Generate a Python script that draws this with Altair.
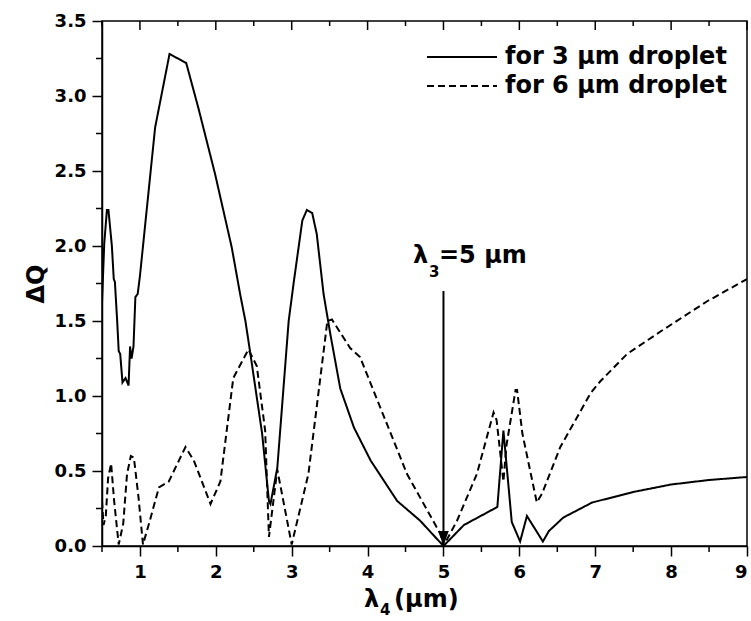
import altair as alt
import pandas as pd

# ΔQ versus λ4 for the 3 µm droplet
lam_3um = [0.5, 0.53, 0.565, 0.585, 0.63, 0.655, 0.67, 0.70, 0.72, 0.74, 0.77, 0.81,
           0.85, 0.87, 0.89, 0.915, 0.94, 0.97, 1.0, 1.2, 1.39, 1.61, 1.77, 1.99,
           2.21, 2.32, 2.39, 2.45, 2.61, 2.70, 2.72, 2.81, 2.96, 3.03, 3.14, 3.2,
           3.27, 3.33, 3.42, 3.51, 3.64, 3.82, 4.04, 4.39, 4.69, 5.0, 5.27, 5.71,
           5.79, 5.9, 6.01, 6.1, 6.31, 6.39, 6.58, 6.96, 7.5, 8.0, 8.5, 9.0]
dq_3um = [1.62, 2.02, 2.24, 2.24, 2.0, 1.78, 1.76, 1.5, 1.30, 1.28, 1.09, 1.12,
          1.07, 1.33, 1.25, 1.33, 1.66, 1.68, 1.8, 2.79, 3.28, 3.22, 2.92, 2.48,
          1.99, 1.68, 1.50, 1.30, 0.75, 0.30, 0.28, 0.52, 1.50, 1.77, 2.17, 2.24,
          2.22, 2.08, 1.68, 1.41, 1.05, 0.79, 0.57, 0.30, 0.17, 0.0, 0.14, 0.26,
          0.77, 0.16, 0.03, 0.20, 0.03, 0.10, 0.19, 0.29, 0.36, 0.41, 0.44, 0.46]

# ΔQ versus λ4 for the 6 µm droplet
lam_6um = [0.5, 0.52, 0.55, 0.58, 0.62, 0.66, 0.72, 0.78, 0.83, 0.88, 0.92, 0.98,
           1.04, 1.12, 1.25, 1.38, 1.6, 1.71, 1.93, 2.06, 2.23, 2.43, 2.54, 2.65,
           2.70, 2.81, 3.0, 3.22, 3.47, 3.53, 3.77, 3.9, 4.17, 4.52, 4.96, 5.0,
           5.18, 5.44, 5.66, 5.7, 5.79, 5.83, 5.95, 5.97, 6.04, 6.23, 6.3, 6.54,
           6.94, 7.07, 7.42, 7.86, 8.47, 9.0]
dq_6um = [0.30, 0.14, 0.2, 0.45, 0.55, 0.3, 0.01, 0.15, 0.48, 0.6, 0.59, 0.33,
          0.01, 0.15, 0.39, 0.43, 0.66, 0.57, 0.28, 0.43, 1.12, 1.31, 1.2, 0.77,
          0.06, 0.51, 0.01, 0.48, 1.50, 1.51, 1.32, 1.26, 0.92, 0.48, 0.08, 0.0,
          0.17, 0.48, 0.89, 0.84, 0.43, 0.67, 1.04, 1.04, 0.75, 0.29, 0.35, 0.66,
          1.02, 1.10, 1.28, 1.43, 1.63, 1.78]

series = ["for 3 \u03bcm droplet", "for 6 \u03bcm droplet"]

x_major = [1, 2, 3, 4, 5, 6, 7, 8, 9]
x_minor = [0.5, 1.5, 2.5, 3.5, 4.5, 5.5, 6.5, 7.5, 8.5]
y_major = [0.0, 0.5, 1.0, 1.5, 2.0, 2.5, 3.0, 3.5]
y_minor = [0.25, 0.75, 1.25, 1.75, 2.25, 2.75, 3.25]

lambda3 = 5.0
arrow_top = 1.70

W, H = 645, 525
FONT = "DejaVu Sans"

curves = pd.DataFrame({
    "lam": lam_3um + lam_6um,
    "dq": dq_3um + dq_6um,
    "series": [series[0]] * len(lam_3um) + [series[1]] * len(lam_6um),
})

xs = alt.Scale(domain=[0.5, 9], nice=False, zero=False)
ys = alt.Scale(domain=[0, 3.5], nice=False, zero=False)

lines = alt.Chart(curves).mark_line(color="black", strokeWidth=2, clip=True).encode(
    x=alt.X("lam:Q", scale=xs,
            axis=alt.Axis(values=x_major, format="d", tickSize=10, labelPadding=7,
                          title=None)),
    y=alt.Y("dq:Q", scale=ys,
            axis=alt.Axis(values=y_major, format=".1f", tickSize=10, labelPadding=6,
                          title="\u0394Q", titleFont=FONT, titleFontSize=24,
                          titleFontWeight="bold", titleColor="black", titleAngle=270,
                          titleX=-66, titleY=H / 2, titleAlign="center",
                          titleBaseline="middle")),
    strokeDash=alt.StrokeDash("series:N",
                              scale=alt.Scale(domain=series, range=[[1, 0], [7, 4]]),
                              legend=None),
)

# minor and mirrored ticks
xmin_df = pd.DataFrame({"lam": x_minor})
xmaj_df = pd.DataFrame({"lam": x_major})
ymin_df = pd.DataFrame({"dq": y_minor})

bottom_minor = alt.Chart(xmin_df).mark_rule(color="black", strokeWidth=1.5).encode(
    x=alt.X("lam:Q", scale=xs), y=alt.value(H), y2=alt.value(H + 6))
top_major = alt.Chart(xmaj_df).mark_rule(color="black", strokeWidth=1.5).encode(
    x=alt.X("lam:Q", scale=xs), y=alt.value(0), y2=alt.value(9))
top_minor = alt.Chart(xmin_df).mark_rule(color="black", strokeWidth=1.5).encode(
    x=alt.X("lam:Q", scale=xs), y=alt.value(0), y2=alt.value(5))
left_minor = alt.Chart(ymin_df).mark_rule(color="black", strokeWidth=1.5).encode(
    y=alt.Y("dq:Q", scale=ys), x=alt.value(-6), x2=alt.value(0))

# arrow marking λ3 = 5 µm
arrow_df = pd.DataFrame({"lam": [lambda3], "dq": [arrow_top], "dq0": [0.0]})
arrow_line = alt.Chart(arrow_df).mark_rule(color="black", strokeWidth=2).encode(
    x=alt.X("lam:Q", scale=xs), y=alt.Y("dq:Q", scale=ys), y2="dq0:Q")
arrow_head = alt.Chart(arrow_df).mark_point(
    shape="M0,0 L-0.35,-1 L0.35,-1 Z", filled=True, size=900, color="black",
    opacity=1, strokeWidth=0).encode(
    x=alt.X("lam:Q", scale=xs), y=alt.Y("dq0:Q", scale=ys))


def label(text, x, y, size, baseline="alphabetic", align="left"):
    return alt.Chart(pd.DataFrame({"t": [text]})).mark_text(
        font=FONT, fontSize=size, fontWeight="bold", color="black",
        align=align, baseline=baseline).encode(
        text="t:N", x=alt.value(x), y=alt.value(y))


annot = [
    label("\u03bb", 311, 242, 24),
    label("3", 327, 256, 15),
    label("=5 \u03bcm", 337, 242, 24),
    # x-axis title with subscript
    label("\u03bb", 262, 586, 24),
    label("4", 278, 594, 15),
    label("(\u03bcm)", 292, 586, 24),
]

# legend
leg_solid = alt.Chart(pd.DataFrame({"k": [0]})).mark_rule(
    color="black", strokeWidth=2).encode(
    x=alt.value(325), x2=alt.value(395), y=alt.value(36))
leg_dash = alt.Chart(pd.DataFrame({"k": [0]})).mark_rule(
    color="black", strokeWidth=2, strokeDash=[7, 4]).encode(
    x=alt.value(325), x2=alt.value(395), y=alt.value(65))
leg_text = [
    label(series[0], 403, 36, 24, baseline="middle"),
    label(series[1], 403, 65, 24, baseline="middle"),
]

chart = alt.layer(
    lines, bottom_minor, top_major, top_minor, left_minor,
    arrow_line, arrow_head, leg_solid, leg_dash, *annot, *leg_text
).properties(
    width=W, height=H, autosize="none",
    padding={"left": 102, "top": 21, "right": 4, "bottom": 75},
    background="white",
).configure_view(
    stroke="black", strokeWidth=1.5
).configure_axis(
    labelFont=FONT, labelFontSize=18, labelFontWeight="bold", labelColor="black",
    tickColor="black", tickWidth=1.5, domainColor="black", domainWidth=1.5,
    grid=False,
)

chart.save("out.html", embed_options={"renderer": "svg", "actions": False})
